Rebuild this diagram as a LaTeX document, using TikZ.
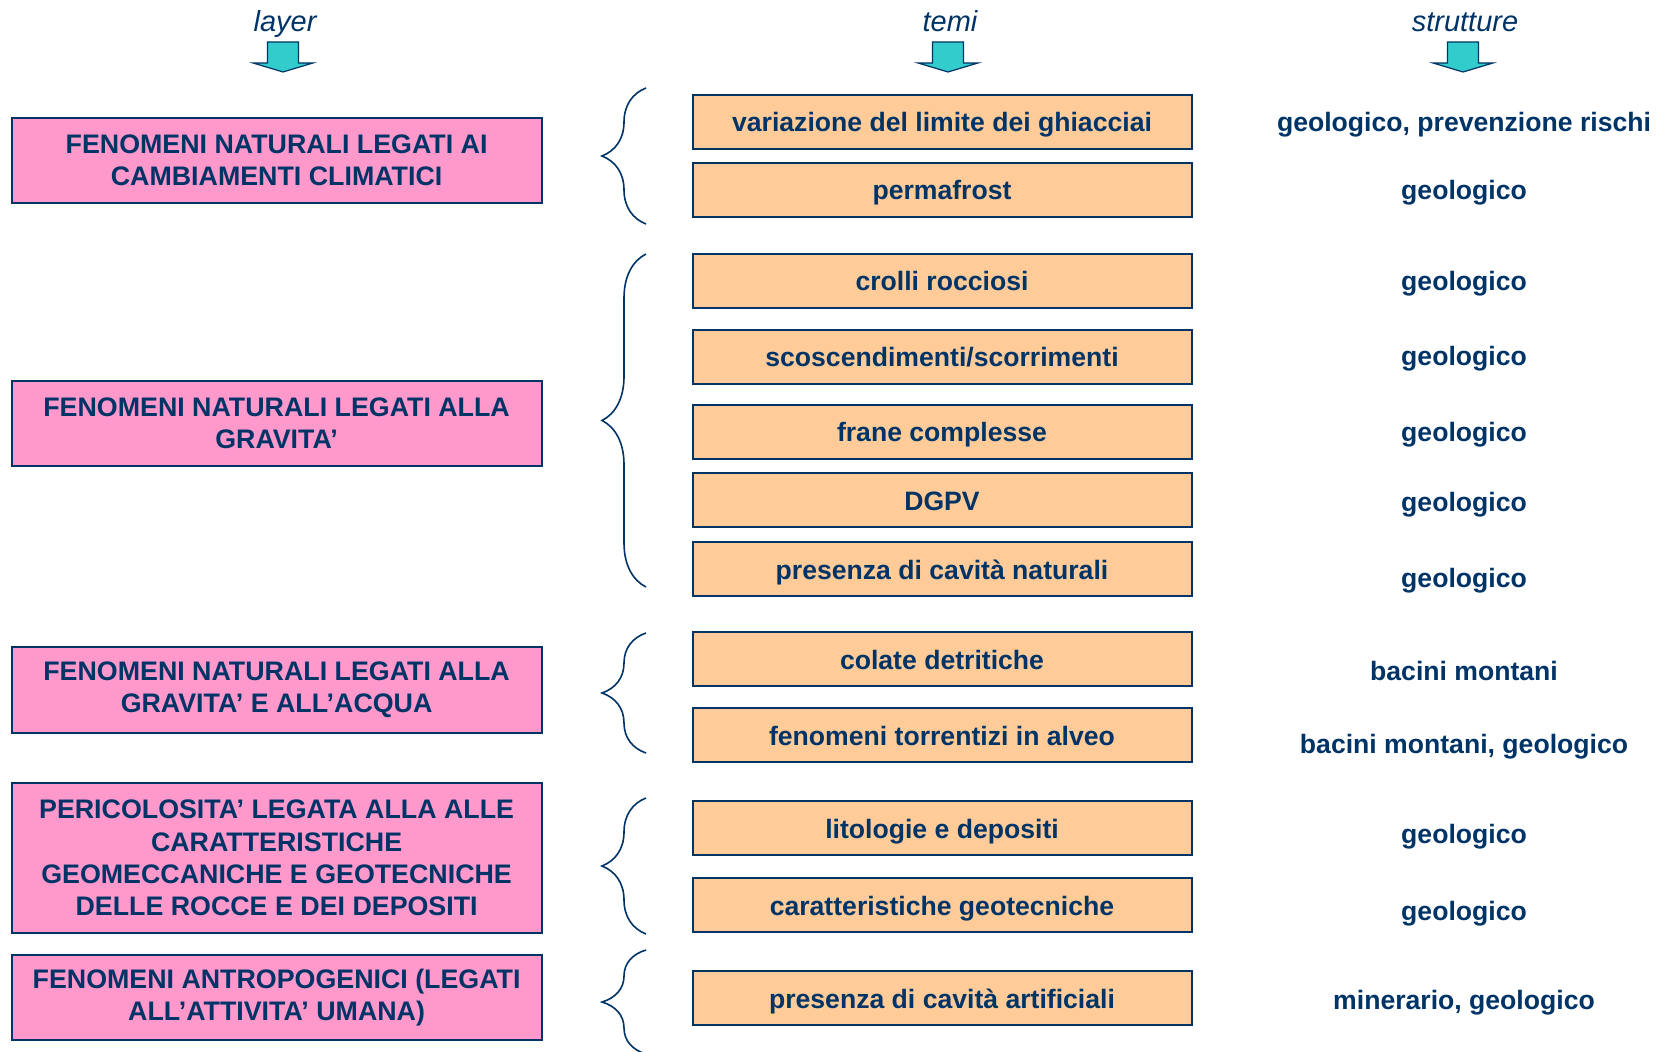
\documentclass[tikz,border=0pt]{standalone}
\usepackage{fontspec}
\setmainfont{Liberation Sans}
\usetikzlibrary{decorations.pathreplacing}
\definecolor{navy}{HTML}{003366}
\definecolor{layerpink}{HTML}{FF99CC}
\definecolor{temaorange}{HTML}{FFCC99}
\definecolor{arrowteal}{HTML}{33CCCC}

\begin{document}
\begin{tikzpicture}[x=0.5pt,y=-0.5pt,
    layerbox/.style={draw=navy,line width=1pt,fill=layerpink,text=navy,align=center,
      font=\bfseries\fontsize{13.4}{16.1}\selectfont,minimum width=265pt,inner sep=0pt},
    temabox/.style={draw=navy,line width=1pt,fill=temaorange,text=navy,
      font=\bfseries\fontsize{13.3}{15}\selectfont,minimum width=249.5pt,minimum height=27pt,
      text height=11pt,text depth=1pt,inner sep=0pt},
    struttura/.style={text=navy,font=\bfseries\fontsize{13.3}{15}\selectfont},
    header/.style={text=navy,anchor=base,font=\itshape\fontsize{14.5}{16}\selectfont},
    graffa/.style={draw=navy,line width=0.8pt,decorate,decoration={brace,amplitude=22pt}}]
  \useasboundingbox (0,0) rectangle (1668,1052);

  % intestazioni con frecce
  \foreach \x/\nome in {285/layer, 950/temi, 1465/strutture} {
    \node[header] (h\nome) at (\x,32) {\nome};
    \filldraw[fill=arrowteal,draw=navy,line width=0.6pt]
      (\x-17.5,42) -- (\x+13.5,42) -- (\x+13.5,63) -- (\x+28,63) -- (\x-2,72)
      -- (\x-32,63) -- (\x-17.5,63) -- cycle;
  }

  % layer
  \node[layerbox,minimum height=42.5pt] (l1) at (276.6,160.5)
    {FENOMENI NATURALI LEGATI AI\\CAMBIAMENTI CLIMATICI};
  \node[layerbox,minimum height=42.5pt] (l2) at (276.6,423.5)
    {FENOMENI NATURALI LEGATI ALLA\\GRAVITA’};
  \node[layerbox,minimum height=43pt] (l3) at (276.6,690)
    {FENOMENI NATURALI LEGATI ALLA\\GRAVITA’ E ALL’ACQUA};
  \node[layerbox,minimum height=75pt] (l4) at (276.6,858)
    {PERICOLOSITA’ LEGATA ALLA ALLE\\CARATTERISTICHE\\GEOMECCANICHE E GEOTECNICHE\\DELLE ROCCE E DEI DEPOSITI};
  \node[layerbox,minimum height=42.5pt] (l5) at (276.6,997.5)
    {FENOMENI ANTROPOGENICI (LEGATI\\ALL’ATTIVITA’ UMANA)};

  % graffe
  \draw[graffa] (646,224) -- (646,88);
  \draw[graffa] (646,587) -- (646,254);
  \draw[graffa] (646,753) -- (646,633);
  \draw[graffa] (646,934) -- (646,798);
  \draw[graffa] (646,1054) -- (646,950);

  % temi
  \node[temabox] (t1) at (942,122) {variazione del limite dei ghiacciai};
  \node[temabox] (t2) at (942,190) {permafrost};
  \node[temabox] (t3) at (942,281) {crolli rocciosi};
  \node[temabox] (t4) at (942,357) {scoscendimenti/scorrimenti};
  \node[temabox] (t5) at (942,432) {frane complesse};
  \node[temabox] (t6) at (942,500.5) {DGPV};
  \node[temabox] (t7) at (942,569) {presenza di cavità naturali};
  \node[temabox] (t8) at (942,659) {colate detritiche};
  \node[temabox] (t9) at (942,735) {fenomeni torrentizi in alveo};
  \node[temabox] (t10) at (942,828) {litologie e depositi};
  \node[temabox] (t11) at (942,905) {caratteristiche geotecniche};
  \node[temabox] (t12) at (942,998) {presenza di cavità artificiali};

  % strutture
  \node[struttura] (s1) at (1464,125) {geologico, prevenzione rischi};
  \node[struttura] (s2) at (1464,193) {geologico};
  \node[struttura] (s3) at (1464,284) {geologico};
  \node[struttura] (s4) at (1464,359) {geologico};
  \node[struttura] (s5) at (1464,435) {geologico};
  \node[struttura] (s6) at (1464,505) {geologico};
  \node[struttura] (s7) at (1464,581) {geologico};
  \node[struttura] (s8) at (1464,671) {bacini montani};
  \node[struttura] (s9) at (1464,747) {bacini montani, geologico};
  \node[struttura] (s10) at (1464,837) {geologico};
  \node[struttura] (s11) at (1464,914) {geologico};
  \node[struttura] (s12) at (1464,1003) {minerario, geologico};
\end{tikzpicture}
\end{document}
